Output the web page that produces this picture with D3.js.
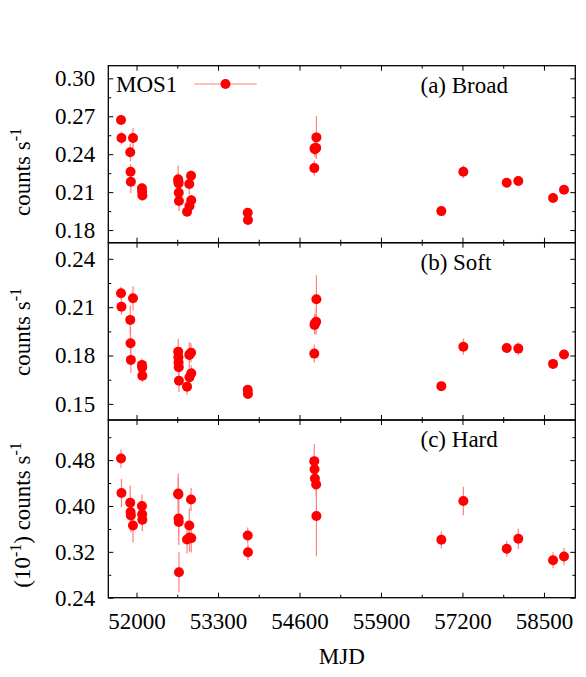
<!DOCTYPE html>
<html>
<head>
<meta charset="utf-8">
<script src="https://cdn.jsdelivr.net/npm/d3@7"></script>
<style>
  html, body { margin: 0; padding: 0; background: #fff; }
  svg text { font-family: "Liberation Serif", "Times New Roman", serif; fill: #000; }
</style>
</head>
<body>
<svg id="chart" width="586" height="677"></svg>
<script>
// ---- data ----
const mjd = [51753, 51760, 51900, 51905, 51910, 51944, 52087, 52090, 52093,
  52665, 52668, 52671, 52674, 52677, 52806, 52842, 52845, 52870, 52873,
  53774, 53778, 54836, 54840, 54846, 54866, 54870,
  56863, 57214, 57906, 58091, 58645, 58820];

const broad = [0.2670, 0.2528, 0.2415, 0.2261, 0.2182, 0.2528, 0.2130, 0.2103, 0.2073,
  0.2201, 0.2185, 0.2169, 0.2095, 0.2030, 0.1945, 0.2164, 0.1990, 0.2230, 0.2036,
  0.1937, 0.1879, 0.2290, 0.2447, 0.2440, 0.2450, 0.2533,
  0.1950, 0.2261, 0.2174, 0.2188, 0.2053, 0.2119];
const broadErr = [0.004, 0.005, 0.007, 0.006, 0.009, 0.008, 0.004, 0.004, 0.004,
  0.011, 0.006, 0.006, 0.006, 0.008, 0.004, 0.008, 0.005, 0.004, 0.004,
  0.003, 0.003, 0.006, 0.006, 0.006, 0.008, 0.017,
  0.003, 0.005, 0.003, 0.003, 0.003, 0.003];

const soft = [0.2186, 0.2103, 0.2021, 0.1876, 0.1773, 0.2155, 0.1742, 0.1725, 0.1674,
  0.1824, 0.1790, 0.1756, 0.1728, 0.1644, 0.1607, 0.1804, 0.1665, 0.1818, 0.1690,
  0.1587, 0.1562, 0.1812, 0.1990, 0.2000, 0.2010, 0.2149,
  0.1610, 0.1855, 0.1847, 0.1843, 0.1748, 0.1806];
const softErr = [0.004, 0.005, 0.009, 0.010, 0.008, 0.0075, 0.004, 0.004, 0.004,
  0.008, 0.006, 0.006, 0.006, 0.007, 0.005, 0.008, 0.005, 0.006, 0.005,
  0.003, 0.003, 0.0056, 0.006, 0.006, 0.008, 0.015,
  0.003, 0.005, 0.003, 0.004, 0.003, 0.003];

const hard = [0.4829, 0.4227, 0.4058, 0.3894, 0.3836, 0.3661, 0.4000, 0.3854, 0.3761,
  0.4216, 0.4200, 0.3780, 0.3720, 0.2843, 0.3416, 0.3661, 0.3450, 0.4112, 0.3439,
  0.3486, 0.3194, 0.4782, 0.4642, 0.4479, 0.4374, 0.3824,
  0.3410, 0.4087, 0.3253, 0.3428, 0.3054, 0.3118];
const hardErr = [0.016, 0.025, 0.030, 0.030, 0.030, 0.030, 0.020, 0.020, 0.020,
  0.035, 0.030, 0.030, 0.040, 0.035, 0.025, 0.030, 0.025, 0.020, 0.025,
  0.014, 0.014, 0.030, 0.020, 0.020, 0.020, 0.070,
  0.015, 0.025, 0.014, 0.018, 0.014, 0.015];

const xMajor = [52000, 53300, 54600, 55900, 57200, 58500];
const xMinor = [52650, 53950, 55250, 56550, 57850];

const panelNames = ["(a) Broad", "(b) Soft", "(c) Hard"];
const yDomains = [[0.17, 0.31], [0.14, 0.25], [0.24, 0.55]];
const yMajor = [[0.18, 0.21, 0.24, 0.27, 0.30], [0.15, 0.18, 0.21, 0.24], [0.24, 0.32, 0.40, 0.48]];
const yMinor = [[0.195, 0.225, 0.255, 0.285], [0.165, 0.195, 0.225], [0.28, 0.36, 0.44, 0.52]];
const yTitles = [["counts s", "-1"], ["counts s", "-1"], ["(10", "-1", ") counts s", "-1"]];
const legendLabel = "MOS1";

// ---- layout ----
const FS = 23;
const L = 108.3, R = 575.3;
const tops = [65.7, 242.7, 420.0];
const bottoms = [242.7, 420.0, 597.7];
const titleCenters = [172, 332, 515];
const MARK = "#ff0000", ERR = "#ff8080";
const RAD = 5;

const svg = d3.select("#chart");
const x = d3.scaleLinear().domain([51550, 59000]).range([L, R]);

const series = [[broad, broadErr], [soft, softErr], [hard, hardErr]];

svg.append("defs").selectAll("clipPath").data(tops).join("clipPath")
  .attr("id", (d, i) => "clip" + i)
  .append("rect").attr("x", L).attr("y", (d, i) => tops[i])
  .attr("width", R - L).attr("height", (d, i) => bottoms[i] - tops[i]);

function styleAxis(g) {
  g.select(".domain").remove();
  g.selectAll(".tick line").attr("stroke", "#000").attr("stroke-width", 1);
  g.selectAll(".tick text").style("font-size", FS + "px").attr("fill", "#000");
}

series.forEach(([vals, errs], i) => {
  const y = d3.scaleLinear().domain(yDomains[i]).range([bottoms[i], tops[i]]);
  const g = svg.append("g");

  // y axes (ticks inward)
  g.append("g").attr("transform", `translate(${L},0)`)
    .call(d3.axisLeft(y).tickValues(yMajor[i]).tickSize(-5).tickPadding(13).tickFormat(d3.format(".2f")))
    .call(styleAxis);
  g.append("g").attr("transform", `translate(${L},0)`)
    .call(d3.axisLeft(y).tickValues(yMinor[i]).tickSize(-3).tickFormat(""))
    .call(styleAxis);
  g.append("g").attr("transform", `translate(${R},0)`)
    .call(d3.axisRight(y).tickValues(yMajor[i]).tickSize(-5).tickFormat(""))
    .call(styleAxis);
  g.append("g").attr("transform", `translate(${R},0)`)
    .call(d3.axisRight(y).tickValues(yMinor[i]).tickSize(-3).tickFormat(""))
    .call(styleAxis);

  // x axes (top + bottom of each panel, ticks inward)
  g.append("g").attr("transform", `translate(0,${bottoms[i]})`)
    .call(d3.axisBottom(x).tickValues(xMajor).tickSize(-5).tickPadding(15)
      .tickFormat(i === 2 ? d3.format("d") : ""))
    .call(styleAxis);
  g.append("g").attr("transform", `translate(0,${bottoms[i]})`)
    .call(d3.axisBottom(x).tickValues(xMinor).tickSize(-3).tickFormat(""))
    .call(styleAxis);
  g.append("g").attr("transform", `translate(0,${tops[i]})`)
    .call(d3.axisTop(x).tickValues(xMajor).tickSize(-5).tickFormat(""))
    .call(styleAxis);
  g.append("g").attr("transform", `translate(0,${tops[i]})`)
    .call(d3.axisTop(x).tickValues(xMinor).tickSize(-3).tickFormat(""))
    .call(styleAxis);

  // data
  const data = mjd.map((m, k) => ({ m, v: vals[k], e: errs[k] }));
  const pg = g.append("g").attr("clip-path", `url(#clip${i})`);
  pg.selectAll("line.err").data(data).join("line").attr("class", "err")
    .attr("x1", d => x(d.m)).attr("x2", d => x(d.m))
    .attr("y1", d => y(d.v - d.e)).attr("y2", d => y(d.v + d.e))
    .attr("stroke", ERR).attr("stroke-width", 1.2);
  pg.selectAll("circle").data(data).join("circle")
    .attr("cx", d => x(d.m)).attr("cy", d => y(d.v)).attr("r", RAD)
    .attr("fill", MARK);

  // panel label
  g.append("text").attr("x", 420.5).attr("y", tops[i] + 26.8)
    .style("font-size", FS + "px").text(panelNames[i]);

  // y title (rotated, with superscripts)
  const t = g.append("text")
    .attr("transform", `translate(30,${titleCenters[i]}) rotate(-90)`)
    .attr("text-anchor", "middle").style("font-size", FS + "px");
  yTitles[i].forEach((s, k) => {
    const sup = (s === "-1");
    t.append("tspan").text(s)
      .attr("dy", sup ? -9 : (k > 0 ? 9 : 0))
      .style("font-size", sup ? "16px" : FS + "px");
  });

  // frame
  g.append("rect").attr("x", L).attr("y", tops[i])
    .attr("width", R - L).attr("height", bottoms[i] - tops[i])
    .attr("fill", "none").attr("stroke", "#000").attr("stroke-width", 1.3);
});

// legend
svg.append("text").attr("x", 116).attr("y", 92.3).style("font-size", FS + "px").text(legendLabel);
svg.append("line").attr("x1", 194.3).attr("x2", 256.7).attr("y1", 84).attr("y2", 84)
  .attr("stroke", ERR).attr("stroke-width", 1.2);
svg.append("circle").attr("cx", 225.5).attr("cy", 84).attr("r", RAD).attr("fill", MARK);

// x title
svg.append("text").attr("x", (L + R) / 2).attr("y", 664).attr("text-anchor", "middle")
  .style("font-size", FS + "px").text("MJD");
</script>
</body>
</html>
